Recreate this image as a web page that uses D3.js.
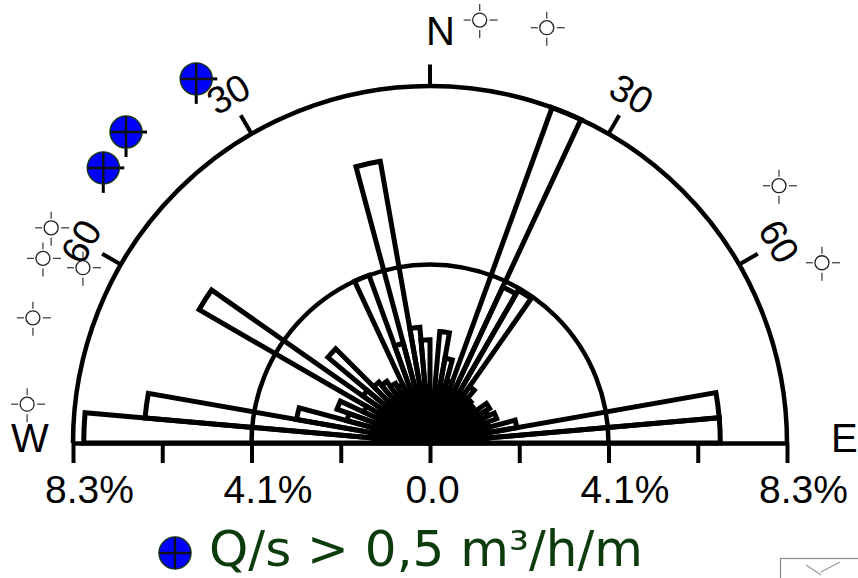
<!DOCTYPE html>
<html>
<head>
<meta charset="utf-8">
<script src="https://d3js.org/d3.v7.min.js"></script>
<style>
  body { margin: 0; background: #fff; }
  svg { display: block; }
</style>
</head>
<body>
<div id="chart"></div>
<script>
// Direction bins (degrees from north, start of each 5 degree sector)
const binStart = [-90, -85, -80, -75, -70, -65, -60, -55, -50, -45, -40, -35,
                  -30, -25, -20, -15, -10, -5, 0, 5, 10, 15, 20, 25,
                  30, 35, 40, 45, 50, 55, 60, 65, 70, 75, 80, 85];
// Frequency in each sector (%)
const freq = [8.05, 6.65, 3.15, 2.0, 2.3, 1.7, 6.2, 1.9, 3.1, 1.85, 1.75, 1.6,
              1.5, 4.15, 2.4, 6.65, 2.7, 2.4, 0.8, 2.6, 2.0, 1.5, 8.3, 4.0,
              4.1, 1.6, 1.35, 1.3, 1.25, 1.6, 1.5, 1.65, 1.4, 2.05, 6.75, 6.75];

// Horizontal scale ticks
const axisTicks = [-8.3, -6.225, -4.15, -2.075, 0, 2.075, 4.15, 6.225, 8.3];
const axisLabels = ["8.3%", "", "4.1%", "", "0.0", "", "4.1%", "", "8.3%"];
const rings = [4.15, 8.3];

// Angle ticks on the outer ring
const angleTicks = [-60, -30, 0, 30, 60];
const angleLabels = ["60", "30", "", "30", "60"];

// Open markers (angle deg, distance %)
const openAngle = [6.7, 15.7, 53.6, 65.3, -60.4, -64.5, -63.2, -72.5, -84.5];
const openDist  = [9.9, 10.03, 10.08, 10.03, 10.13, 9.97, 9.04, 9.68, 9.41];
// Filled markers, Q/s > 0,5
const blueAngle = [-32.7, -44.35, -49.9];
const blueDist  = [10.06, 10.11, 9.93];

const legendText = "Q/s > 0,5 m³/h/m";

const W = 858, H = 578;
const cx = 430, cy = 443, R = 357;
const font = "'Liberation Sans', Arial, sans-serif";

const svg = d3.select("#chart").append("svg")
    .attr("width", W).attr("height", H);

const r = d3.scaleLinear().domain([0, 8.3]).range([0, R]);
const x = d3.scaleLinear().domain([-8.3, 8.3]).range([cx - R, cx + R]);
const rad = d => d * Math.PI / 180;
const px = (a, v) => cx + r(v) * Math.sin(rad(a));
const py = (a, v) => cy - r(v) * Math.cos(rad(a));

// Sectors
const arc = d3.arc().innerRadius(0);
svg.append("g")
    .attr("transform", `translate(${cx},${cy})`)
  .selectAll("path")
  .data(binStart.map((b, i) => ({ b, v: freq[i] })))
  .join("path")
    .attr("d", d => arc({ startAngle: rad(d.b), endAngle: rad(d.b + 5), outerRadius: r(d.v) }))
    .attr("fill", "none")
    .attr("stroke", "#000")
    .attr("stroke-width", 5)
    .attr("stroke-linejoin", "miter");

// Rings
svg.append("g").selectAll("path")
  .data(rings)
  .join("path")
    .attr("d", d => {
      const p = d3.path();
      p.arc(cx, cy, r(d), Math.PI, 2 * Math.PI);
      return p.toString();
    })
    .attr("fill", "none")
    .attr("stroke", "#000")
    .attr("stroke-width", 4.5);

// Angle ticks + labels
const at = svg.append("g");
at.selectAll("line")
  .data(angleTicks)
  .join("line")
    .attr("x1", d => px(d, 8.3)).attr("y1", d => py(d, 8.3))
    .attr("x2", d => px(d, 8.3 + 0.5)).attr("y2", d => py(d, 8.3 + 0.5))
    .attr("stroke", "#000").attr("stroke-width", 4);
at.selectAll("text")
  .data(angleTicks)
  .join("text")
    .attr("transform", d => `translate(${px(d, 9.38)},${py(d, 9.38)}) rotate(${d})`)
    .attr("text-anchor", "middle")
    .attr("dy", "0.36em")
    .attr("font-family", font)
    .attr("font-size", 38)
    .text((d, i) => angleLabels[i]);

// Bottom axis
const axis = d3.axisBottom(x)
    .tickValues(axisTicks)
    .tickFormat((d, i) => axisLabels[i])
    .tickSize(20)
    .tickSizeOuter(0)
    .tickPadding(12);
const ax = svg.append("g")
    .attr("transform", `translate(0,${cy})`)
    .call(axis);
ax.select(".domain").attr("stroke-width", 4.5);
ax.selectAll(".tick line").attr("stroke-width", 4);
ax.selectAll(".tick text")
    .attr("font-family", font)
    .attr("font-size", 39)
    .attr("fill", "#000")
    .attr("dx", (d, i) => axisLabels[i].endsWith("%") ? 16 : 2);

// Compass letters
svg.append("g").selectAll("text")
  .data([["W", 11, 452], ["N", 426, 45], ["E", 831, 452]])
  .join("text")
    .attr("x", d => d[1]).attr("y", d => d[2])
    .attr("font-family", font)
    .attr("font-size", 40)
    .text(d => d[0]);

// Open crosshair markers
const om = svg.append("g").selectAll("g")
  .data(openAngle.map((a, i) => [a, openDist[i]]))
  .join("g")
    .attr("transform", d => `translate(${px(d[0], d[1])},${py(d[0], d[1])})`);
om.append("circle").attr("r", 7).attr("fill", "#fff")
    .attr("stroke", "#222").attr("stroke-width", 1.3);
[[-16, 0, -9, 0], [10, 0, 18, 0], [0, -16, 0, -9], [0, 10, 0, 18]].forEach(s => {
  om.append("line")
    .attr("x1", s[0]).attr("y1", s[1]).attr("x2", s[2]).attr("y2", s[3])
    .attr("stroke", "#444").attr("stroke-width", 1.3);
});

// Filled markers
function blueMarker(g, rr) {
  g.append("line").attr("x1", 0).attr("y1", rr - 2).attr("x2", 0).attr("y2", rr + 9)
    .attr("stroke", "#000").attr("stroke-width", 3);
  g.append("line").attr("x1", rr - 2).attr("y1", 0).attr("x2", rr + 5).attr("y2", 0)
    .attr("stroke", "#000").attr("stroke-width", 3);
  g.append("circle").attr("r", rr).attr("fill", "#0000ff")
    .attr("stroke", "#16361a").attr("stroke-width", 1.5);
  g.append("line").attr("x1", -rr).attr("x2", rr).attr("y1", 0).attr("y2", 0)
    .attr("stroke", "#111").attr("stroke-width", 2.5);
  g.append("line").attr("y1", -rr).attr("y2", rr).attr("x1", 0).attr("x2", 0)
    .attr("stroke", "#111").attr("stroke-width", 2.5);
}
svg.append("g").selectAll("g")
  .data(blueAngle.map((a, i) => [a, blueDist[i]]))
  .join("g")
    .attr("transform", d => `translate(${px(d[0], d[1])},${py(d[0], d[1])})`)
    .each(function () { blueMarker(d3.select(this), 16); });

// Legend
const lg = svg.append("g").attr("transform", "translate(175,553)");
lg.append("circle").attr("r", 16).attr("fill", "#0000ff")
    .attr("stroke", "#16361a").attr("stroke-width", 1.5);
lg.append("line").attr("x1", -16).attr("x2", 16)
    .attr("stroke", "#111").attr("stroke-width", 2.5);
lg.append("line").attr("y1", -16).attr("y2", 16)
    .attr("stroke", "#111").attr("stroke-width", 2.5);
svg.append("text")
    .attr("x", 209).attr("y", 566)
    .attr("font-family", "'DejaVu Sans', Verdana, sans-serif")
    .attr("font-size", 49)
    .attr("fill", "#0c3c0c")
    .attr("textLength", 434)
    .attr("lengthAdjust", "spacingAndGlyphs")
    .text(legendText);

// Cut-off widget in the corner
const wg = svg.append("g");
wg.append("rect").attr("x", 780.5).attr("y", 558.5).attr("width", 90).attr("height", 30)
    .attr("fill", "#fff").attr("stroke", "#888").attr("stroke-width", 1.2);
wg.append("path").attr("d", "M806,565 L821,575 M840,562 L821,572")
    .attr("fill", "none").attr("stroke", "#999").attr("stroke-width", 1.2);
</script>
</body>
</html>
